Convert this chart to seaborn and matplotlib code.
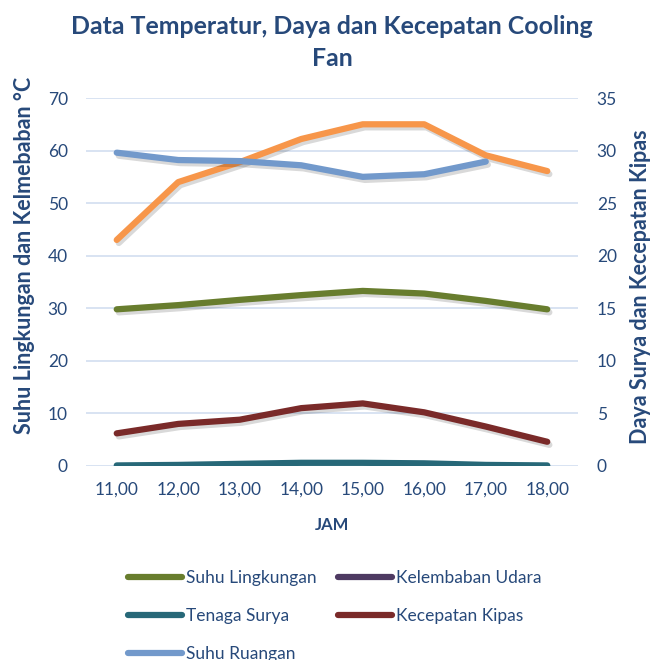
import numpy as np
import pandas as pd
import matplotlib
matplotlib.use("Agg")
import matplotlib.pyplot as plt
import matplotlib.patheffects as pe
from matplotlib.lines import Line2D
import seaborn as sns

# Hourly readings
jam = ["11,00", "12,00", "13,00", "14,00", "15,00", "16,00", "17,00", "18,00"]
suhu_lingkungan = [29.8, 30.6, 31.6, 32.5, 33.3, 32.8, 31.4, 29.8]
kelembaban_udara = [43.0, 54.0, 57.8, 62.2, 65.0, 65.0, 59.1, 56.1]
suhu_ruangan = [59.6, 58.2, 58.0, 57.2, 55.0, 55.5, 57.9, np.nan]
tenaga_surya = [0.05, 0.1, 0.2, 0.3, 0.3, 0.25, 0.1, 0.05]
kecepatan_kipas = [3.1, 4.0, 4.4, 5.5, 5.95, 5.1, 3.75, 2.3]

left_ticks = [0, 10, 20, 30, 40, 50, 60, 70]
right_ticks = [0, 5, 10, 15, 20, 25, 30, 35]

c_text = "#27497a"
c_green = "#687d2e"
c_purple = "#4e3a62"
c_teal = "#276878"
c_red = "#7a2a29"
c_blue = "#7299cb"
c_orange = "#f7964a"

sns.set_style("white")
plt.rcParams["font.family"] = ["Lato", "DejaVu Sans"]

df = pd.DataFrame({
    "jam": jam,
    "Suhu Lingkungan": suhu_lingkungan,
    "Kelembaban Udara": kelembaban_udara,
    "Suhu Ruangan": suhu_ruangan,
    "Tenaga Surya": tenaga_surya,
    "Kecepatan Kipas": kecepatan_kipas,
})

fig = plt.figure(figsize=(6.64, 6.60), dpi=100)
ax = fig.add_axes([0.1295, 0.294, 0.741, 0.5575])
ax2 = ax.twinx()

lw = 4.5
shadow = [pe.SimpleLineShadow(offset=(1.5, -2.2), alpha=0.15, shadow_color="black"),
          pe.Normal()]

def draw(axis, col, color):
    sns.lineplot(data=df, x="jam", y=col, ax=axis, color=color, linewidth=lw,
                 sort=False, legend=False)
    line = axis.get_lines()[-1]
    line.set_solid_capstyle("round")
    line.set_solid_joinstyle("round")
    line.set_path_effects(shadow)

draw(ax, "Suhu Lingkungan", c_green)
draw(ax, "Kelembaban Udara", c_orange)
draw(ax, "Suhu Ruangan", c_blue)
draw(ax2, "Tenaga Surya", c_teal)
draw(ax2, "Kecepatan Kipas", c_red)

ax.set_xlim(-0.5, len(jam) - 0.5)
ax.set_ylim(0, 70)
ax2.set_ylim(0, 35)
ax.set_yticks(left_ticks)
ax2.set_yticks(right_ticks)
ax.yaxis.grid(True, color="#d6e1f1", linewidth=1.3)
ax.set_axisbelow(True)
ax2.grid(False)

for a in (ax, ax2):
    for s in a.spines.values():
        s.set_visible(False)
    a.tick_params(length=0, labelsize=12.5, labelcolor=c_text)
ax.tick_params(axis="y", pad=13)
ax2.tick_params(axis="y", pad=13.5)
ax.tick_params(axis="x", pad=11)

ax.set_xlabel("JAM", fontsize=12, fontweight="bold", color=c_text, labelpad=14)
ax.set_ylabel("Suhu Lingkungan dan Kelmebaban °C", fontsize=15.5, fontweight="bold",
              color=c_text)
ax.yaxis.set_label_coords(-0.104, 0.573)
ax2.set_ylabel("Daya Surya dan Kecepatan Kipas", fontsize=15.5, fontweight="bold",
               color=c_text)
ax2.yaxis.set_label_coords(1.106, 0.486)

fig.text(0.5, 0.977, "Data Temperatur, Daya dan Kecepatan Cooling\nFan",
         ha="center", va="top", fontsize=17.9, fontweight="bold", color=c_text,
         linespacing=1.45)

handles = [
    Line2D([], [], color=c_green, linewidth=lw, solid_capstyle="round"),
    Line2D([], [], color=c_teal, linewidth=lw, solid_capstyle="round"),
    Line2D([], [], color=c_blue, linewidth=lw, solid_capstyle="round"),
    Line2D([], [], color=c_purple, linewidth=lw, solid_capstyle="round"),
    Line2D([], [], color=c_red, linewidth=lw, solid_capstyle="round"),
]
labels = ["Suhu Lingkungan", "Tenaga Surya", "Suhu Ruangan",
          "Kelembaban Udara", "Kecepatan Kipas"]
leg = fig.legend(handles, labels, ncol=2, loc="upper left",
                 bbox_to_anchor=(0.193, 0.136), frameon=False, fontsize=12.5,
                 handlelength=3.1, handletextpad=0.25, columnspacing=1.2,
                 labelspacing=1.27, borderaxespad=0, borderpad=0)
for t in leg.get_texts():
    t.set_color(c_text)

fig.savefig("out.png", dpi=100)
